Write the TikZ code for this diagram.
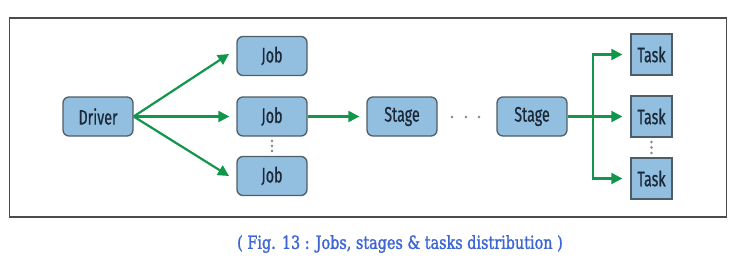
\documentclass[tikz,border=0pt]{standalone}
\usepackage{fontspec}
\newfontfamily\nodefont[FakeStretch=0.68,FakeBold=0.6]{Fira Sans}
\newfontfamily\capfont[FakeStretch=0.8,FakeBold=1.5]{DejaVu Serif}
\usetikzlibrary{arrows.meta}
\definecolor{boxfill}{HTML}{92BFE0}
\definecolor{boxline}{HTML}{4F5D66}
\definecolor{arrowgreen}{HTML}{11964B}
\definecolor{captionblue}{HTML}{3D66D4}
\definecolor{dotgray}{HTML}{6F8A8A}
\definecolor{textnavy}{HTML}{1B2838}
\begin{document}
\begin{tikzpicture}[x=1pt,y=-1pt,
  rbox/.style={draw=boxline,line width=1.3pt,fill=boxfill,rounded corners=6pt,
    minimum width=70pt,minimum height=39pt,inner sep=0pt,
    font=\nodefont\fontsize{21}{24}\selectfont,text=textnavy},
  taskbox/.style={draw=boxline,line width=1.3pt,fill=boxfill,
    minimum width=41pt,minimum height=41pt,inner sep=0pt,
    font=\nodefont\fontsize{21}{24}\selectfont,text=textnavy},
  conn/.style={draw=arrowgreen,line width=2.2pt,-{Triangle[length=11pt,width=11pt]}},
  dotmark/.style={fill=dotgray,circle,inner sep=0pt,minimum size=2.6pt},
  frame/.style={draw=black!70,line width=1.1pt}]
\useasboundingbox (0,0) rectangle (743,262);
\node[frame,minimum width=717pt,minimum height=199pt,inner sep=0pt] (fr) at (368,117.5) {};
\node[rbox] (drv) at (98,116.5) {Driver};
\node[rbox] (j1) at (272,56) {Job};
\node[rbox] (j2) at (272,116.5) {Job};
\node[rbox] (j3) at (272,176) {Job};
\node[rbox] (s1) at (402,116.5) {Stage};
\node[rbox] (s2) at (532,116.5) {Stage};
\node[taskbox] (t1) at (651.5,54.5) {Task};
\node[taskbox] (t2) at (651.5,116.5) {Task};
\node[taskbox] (t3) at (651.5,178.5) {Task};
\coordinate (d1) at (229,54);
\coordinate (d3) at (229,176);
\draw[conn] (drv.east) -- (d1);
\draw[conn] (drv.east) -- ([xshift=-7pt]j2.west);
\draw[conn] (drv.east) -- (d3);
\draw[conn] (j2.east) -- ([xshift=-7pt]s1.west);
\coordinate (br) at (593,116.5);
\draw[conn] (s2.east) -- ([xshift=-8pt]t2.west);
\draw[conn] (br) |- ([xshift=-8pt]t1.west);
\draw[conn] (br) |- ([xshift=-8pt]t3.west);
\node[dotmark] (jd1) at (272,141) {};
\node[dotmark] (jd2) at (272,146) {};
\node[dotmark] (jd3) at (272,151) {};
\node[dotmark] (sd1) at (452,117) {};
\node[dotmark] (sd2) at (466,117) {};
\node[dotmark] (sd3) at (479,117) {};
\node[dotmark] (td1) at (651.5,142) {};
\node[dotmark] (td2) at (651.5,147.5) {};
\node[dotmark] (td3) at (651.5,153) {};
\node[font=\capfont\fontsize{18}{21}\selectfont,text=captionblue] (cap) at (400,244) {( Fig. 13 : Jobs, stages \& tasks distribution )};
\end{tikzpicture}
\end{document}
